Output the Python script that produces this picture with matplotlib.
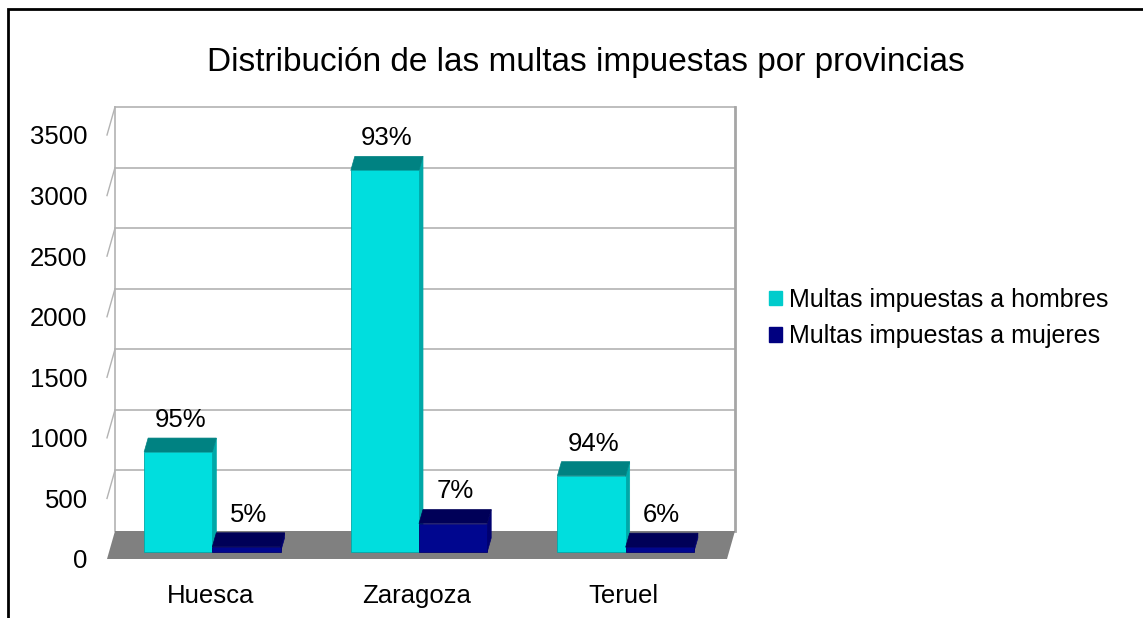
import numpy as np
import matplotlib
matplotlib.use('Agg')
import matplotlib.pyplot as plt
from matplotlib.patches import Polygon, Patch, Rectangle

plt.rcParams['font.family'] = ['Liberation Sans', 'DejaVu Sans']

# data
provincias = ['Huesca', 'Zaragoza', 'Teruel']
hombres = [825, 3150, 630]
mujeres = [43, 235, 40]
yticks = [0, 500, 1000, 1500, 2000, 2500, 3000, 3500]
series_names = ['Multas impuestas a hombres', 'Multas impuestas a mujeres']

W, H = 1143, 618
fig = plt.figure(figsize=(W / 100, H / 100), dpi=100)
fig.patch.set_facecolor('white')

# front plane of the 3d box, in pixels
left_px, right_px, bottom_px, top_px = 107, 727, 559, 135
ax = fig.add_axes([left_px / W, 1 - bottom_px / H,
                   (right_px - left_px) / W, (bottom_px - top_px) / H])
ax.set_xlim(-0.5, 2.5)
ax.set_ylim(0, 3500)
for s in ax.spines.values():
    s.set_visible(False)
ax.patch.set_alpha(0)

# depth of the box (8 px right, 28 px up) in data units
dx = 8 / ((right_px - left_px) / 3)
dy = 28 / ((bottom_px - top_px) / 3500)

grid_c = '#b3b3b3'
# floor
ax.add_patch(Polygon([(-0.5, 0), (2.5, 0), (2.5 + dx, dy), (-0.5 + dx, dy)],
                     closed=True, facecolor='#808080', edgecolor='none',
                     clip_on=False, zorder=1))
# back wall grid and side wall
for v in yticks[1:]:
    ax.plot([-0.5 + dx, 2.5 + dx], [v + dy, v + dy], color=grid_c, lw=1.2,
            clip_on=False, zorder=0)
    ax.plot([-0.5, -0.5 + dx], [v, v + dy], color=grid_c, lw=1,
            clip_on=False, zorder=0)
ax.plot([-0.5 + dx, -0.5 + dx], [dy, 3500 + dy], color=grid_c, lw=1.2,
        clip_on=False, zorder=0)
ax.plot([2.5 + dx, 2.5 + dx], [dy, 3500 + dy], color='#a6a6a6', lw=2,
        clip_on=False, zorder=0)


def bar3d(x0, x1, v, front, top, side):
    d0, d1 = 0.25, 0.75
    fx0, fx1 = x0 + d0 * dx, x1 + d0 * dx
    bx0, bx1 = x0 + d1 * dx, x1 + d1 * dx
    fy0, fy1 = d0 * dy, v + d0 * dy
    by0, by1 = d1 * dy, v + d1 * dy
    ax.add_patch(Polygon([(fx1, fy0), (bx1, by0), (bx1, by1), (fx1, fy1)],
                         closed=True, facecolor=side, edgecolor=side, lw=0.5,
                         clip_on=False, zorder=3))
    ax.add_patch(Polygon([(fx0, fy1), (fx1, fy1), (bx1, by1), (bx0, by1)],
                         closed=True, facecolor=top, edgecolor=top, lw=0.5,
                         clip_on=False, zorder=3))
    ax.add_patch(Polygon([(fx0, fy0), (fx1, fy0), (fx1, fy1), (fx0, fy1)],
                         closed=True, facecolor=front, edgecolor=side, lw=0.6,
                         clip_on=False, zorder=3))
    return (x0 + x1) / 2 + 0.5 * dx, by1


bw = 0.33
for i in range(len(provincias)):
    total = hombres[i] + mujeres[i]
    cx, ty = bar3d(i - bw, i, hombres[i], '#00dede', '#008282', '#00a8a8')
    ax.annotate('%d%%' % round(100 * hombres[i] / total), (cx, ty),
                xytext=(0, 8), textcoords='offset points', ha='center',
                va='baseline', fontsize=18.5, annotation_clip=False)
    cx, ty = bar3d(i, i + bw, mujeres[i], '#00068f', '#000058', '#000070')
    ax.annotate('%d%%' % round(100 * mujeres[i] / total), (cx, ty),
                xytext=(0, 8), textcoords='offset points', ha='center',
                va='baseline', fontsize=18.5, annotation_clip=False)

ax.set_yticks(yticks)
ax.set_yticklabels([str(t) for t in yticks], fontsize=18.5)
ax.set_xticks(range(len(provincias)))
ax.set_xticklabels(provincias, fontsize=18.5)
ax.tick_params(axis='y', length=0, pad=14)
ax.tick_params(axis='x', length=0, pad=18)

fig.text(586 / W, 1 - 63 / H, 'Distribución de las multas impuestas por provincias',
         ha='center', va='center', fontsize=24)

handles = [Patch(facecolor='#00cccc', edgecolor='#00cccc'),
           Patch(facecolor='#000080', edgecolor='#000080')]
fig.legend(handles, series_names, loc='center left',
           bbox_to_anchor=(769 / W, 1 - 318 / H), frameon=False, fontsize=18,
           handlelength=0.5, handleheight=0.5, handletextpad=0.3,
           labelspacing=0.5, borderpad=0, borderaxespad=0)

fig.patches.append(Rectangle((8 / W, -0.1), 1.2, 1.1 - 9 / H, fill=False,
                             edgecolor='black', lw=2, transform=fig.transFigure))

fig.savefig('out.png', dpi=100)
